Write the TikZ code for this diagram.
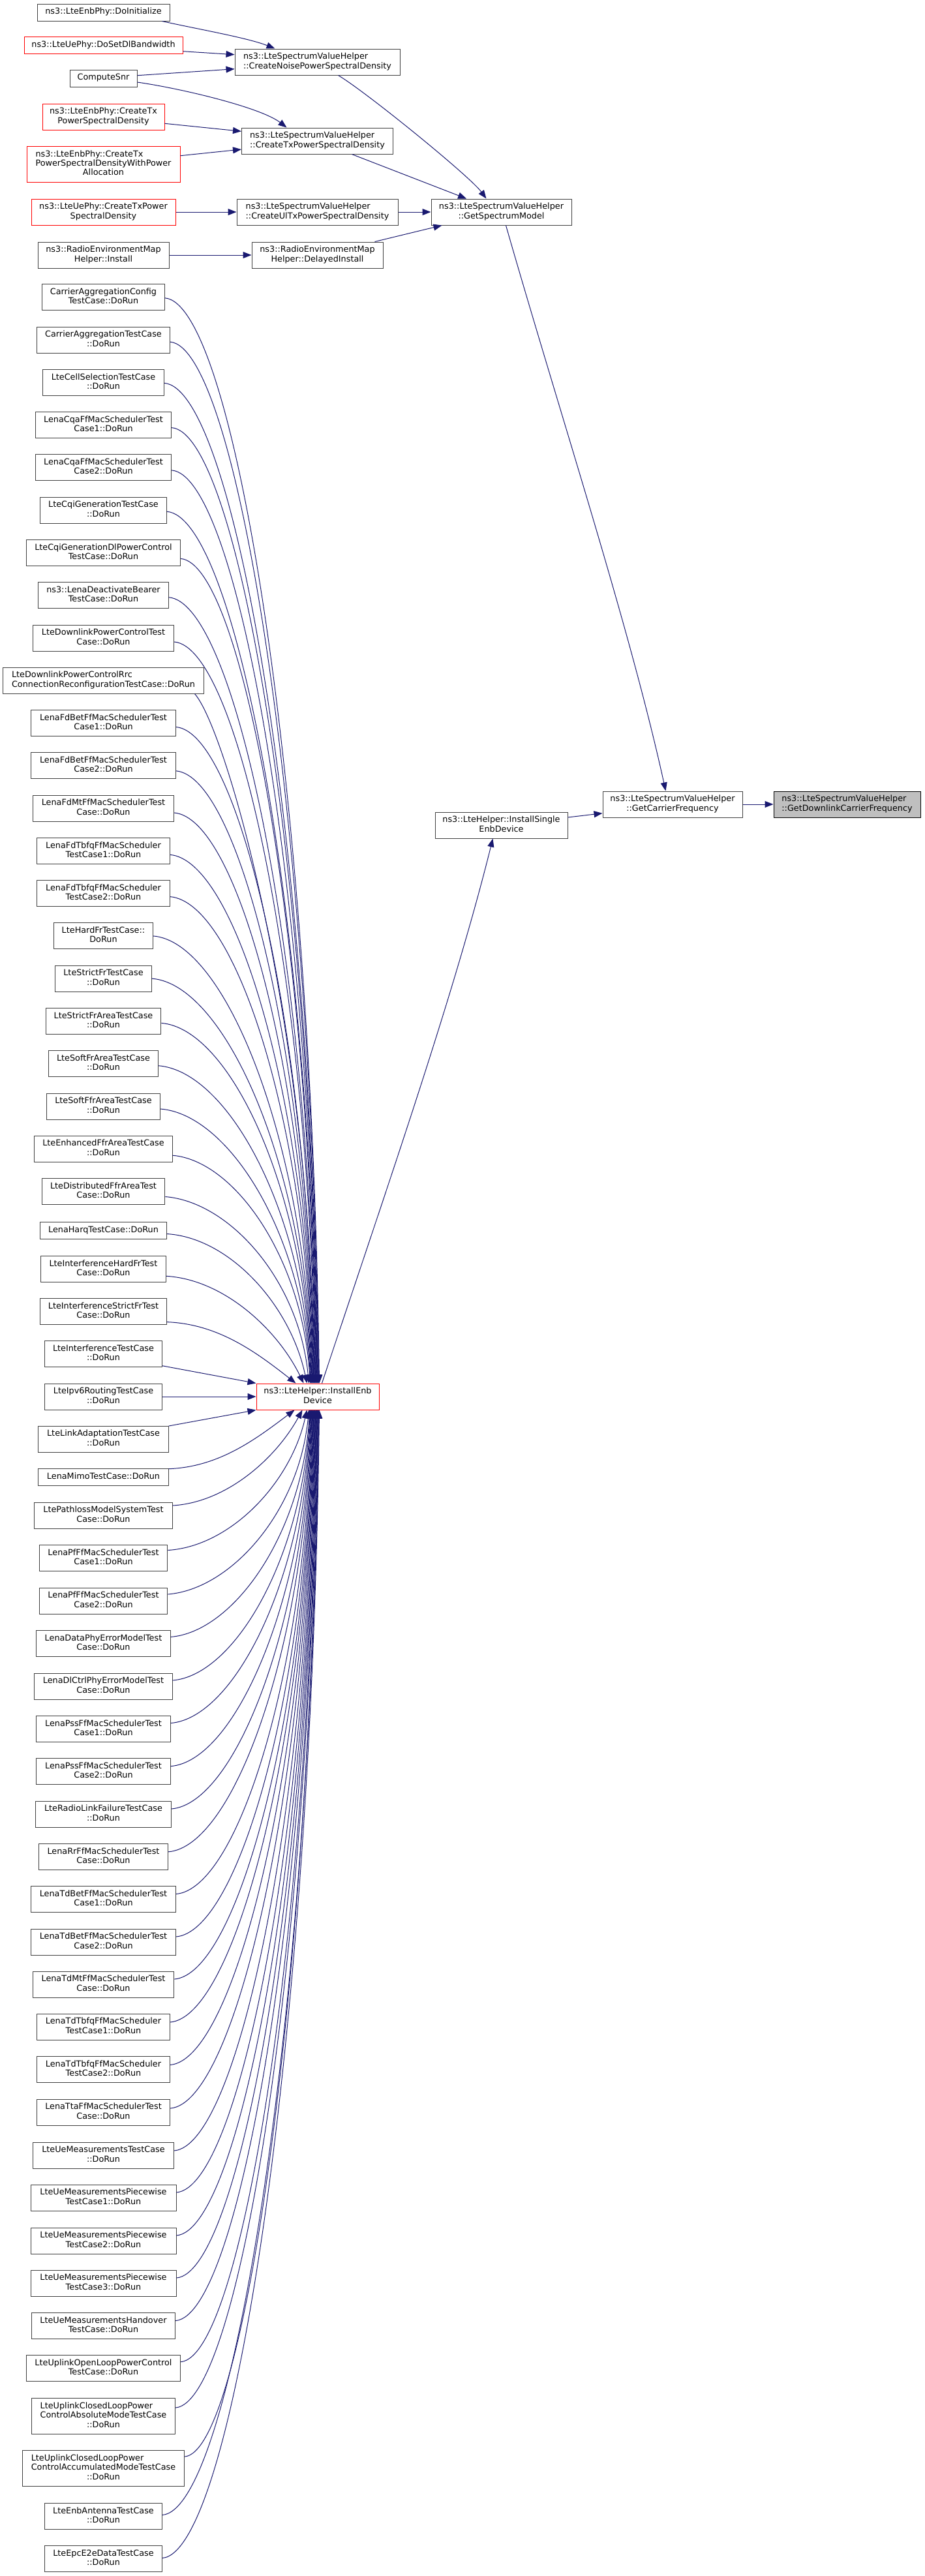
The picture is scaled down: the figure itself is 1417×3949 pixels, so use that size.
\documentclass[tikz,border=0pt]{standalone}
\usepackage{fontspec}
\setmainfont{DejaVu Sans}
\usetikzlibrary{arrows.meta,calc}
\definecolor{edgec}{HTML}{191970}
\definecolor{bd}{HTML}{404040}
\definecolor{gbg}{HTML}{BFBFBF}
\definecolor{rbd}{HTML}{FF0000}
\newcommand{\lb}[2]{\begin{tabular}{@{}l@{}}#1\\\multicolumn{1}{@{}c@{}}{#2}\end{tabular}}
\newcommand{\lone}[1]{\begin{tabular}{@{}c@{}}#1\end{tabular}}
\newcommand{\nfont}{\fontsize{12.8}{14.3}\selectfont}
\newcommand{\tc}[5]{\node[nbox, minimum width=#3pt, minimum height=#4pt] (t#1) at (158.5,#2) {#5};}
\newcommand{\tedge}[7]{%
\draw[conn] let \p1=($(t#1.east)+(0,#2)$), \p2=($(ie.north west)+(#3-393,0)$) in
 (\p1) .. controls ({\x1+#4*(\x2-\x1)},{\y1-#5pt}) and ({\x2+#6pt},{\y2+#7*(\y1-\y2)}) .. (\p2);}
\newcommand{\bedge}[7]{%
\draw[conn] let \p1=($(t#1.east)+(0,#2)$), \p2=($(ie.south west)+(#3-393,0)$) in
 (\p1) .. controls ({\x1+#4*(\x2-\x1)},{\y1+#5pt}) and ({\x2+#6pt},{\y2-#7*(\y2-\y1)}) .. (\p2);}
\begin{document}
\begin{tikzpicture}[x=1pt,y=-1pt,
  nbox/.style={draw=bd, fill=white, line width=1pt, rectangle, inner xsep=6pt, inner ysep=2pt, font=\nfont, text=black},
  rbox/.style={nbox, draw=rbd},
  gbox/.style={nbox, fill=gbg, draw=black},
  conn/.style={draw=edgec, line width=1pt, -{Triangle[length=13pt,width=10pt]}}]
\fill[white] (0,0) rectangle (1417,3949);
\useasboundingbox (0,0) rectangle (1417,3949);

% top area
\node[nbox, minimum width=203pt, minimum height=26pt] (doinit) at (158.5,19) {\lone{ns3::LteEnbPhy::DoInitialize}};
\node[rbox, minimum width=243pt, minimum height=25.5pt] (dosetdl) at (158.5,69.5) {\lone{ns3::LteUePhy::DoSetDlBandwidth}};
\node[nbox, minimum width=103pt, minimum height=26pt] (csnr) at (158.5,120) {\lone{ComputeSnr}};
\node[rbox, minimum width=187pt, minimum height=40pt] (enbtx) at (158.5,179) {\lb{ns3::LteEnbPhy::CreateTx}{PowerSpectralDensity}};
\node[rbox, minimum width=235pt, minimum height=55pt] (enbtxpa) at (158.5,251.5) {\lb{ns3::LteEnbPhy::CreateTx\\PowerSpectralDensityWithPower}{Allocation}};
\node[rbox, minimum width=221pt, minimum height=40pt] (uetx) at (158.5,325) {\lb{ns3::LteUePhy::CreateTxPower}{SpectralDensity}};
\node[nbox, minimum width=201pt, minimum height=40pt] (reminst) at (158.5,391) {\lb{ns3::RadioEnvironmentMap}{Helper::Install}};
\node[nbox, minimum width=253pt, minimum height=40pt] (noise) at (486.5,95) {\lb{ns3::LteSpectrumValueHelper}{::CreateNoisePowerSpectralDensity}};
\node[nbox, minimum width=232pt, minimum height=40pt] (txpsd) at (486.5,216) {\lb{ns3::LteSpectrumValueHelper}{::CreateTxPowerSpectralDensity}};
\node[nbox, minimum width=247pt, minimum height=40pt] (ultx) at (486.5,325) {\lb{ns3::LteSpectrumValueHelper}{::CreateUlTxPowerSpectralDensity}};
\node[nbox, minimum width=201pt, minimum height=40pt] (delinst) at (486.5,391) {\lb{ns3::RadioEnvironmentMap}{Helper::DelayedInstall}};
\node[nbox, minimum width=215pt, minimum height=40pt] (gsm) at (768.5,325) {\lb{ns3::LteSpectrumValueHelper}{::GetSpectrumModel}};
\node[nbox, minimum width=214pt, minimum height=40pt] (gcf) at (1031,1233) {\lb{ns3::LteSpectrumValueHelper}{::GetCarrierFrequency}};
\node[gbox, minimum width=225pt, minimum height=40pt] (gdcf) at (1298.5,1233) {\lb{ns3::LteSpectrumValueHelper}{::GetDownlinkCarrierFrequency}};
\node[nbox, minimum width=203pt, minimum height=40pt] (ised) at (768.5,1265) {\lb{ns3::LteHelper::InstallSingle}{EnbDevice}};
\node[rbox, minimum width=188pt, minimum height=40pt] (ie) at (487,2141) {\lb{ns3::LteHelper::InstallEnb}{Device}};

% test cases
\tc{1}{455.8}{187.3}{40}{\lb{CarrierAggregationConfig}{TestCase::DoRun}}
\tc{2}{521.1}{203.3}{40}{\lb{CarrierAggregationTestCase}{::DoRun}}
\tc{3}{586.3}{185.7}{40}{\lb{LteCellSelectionTestCase}{::DoRun}}
\tc{4}{651.6}{208.3}{40}{\lb{LenaCqaFfMacSchedulerTest}{Case1::DoRun}}
\tc{5}{716.9}{208.3}{40}{\lb{LenaCqaFfMacSchedulerTest}{Case2::DoRun}}
\tc{6}{782.2}{193.7}{40}{\lb{LteCqiGenerationTestCase}{::DoRun}}
\tc{7}{847.4}{236.3}{40}{\lb{LteCqiGenerationDlPowerControl}{TestCase::DoRun}}
\tc{8}{912.7}{199.3}{40}{\lb{ns3::LenaDeactivateBearer}{TestCase::DoRun}}
\tc{9}{978.0}{216.3}{40}{\lb{LteDownlinkPowerControlTest}{Case::DoRun}}
\tc{10}{1043.2}{307.7}{40}{\lb{LteDownlinkPowerControlRrc}{ConnectionReconfigurationTestCase::DoRun}}
\tc{11}{1108.5}{221.7}{40}{\lb{LenaFdBetFfMacSchedulerTest}{Case1::DoRun}}
\tc{12}{1173.8}{221.7}{40}{\lb{LenaFdBetFfMacSchedulerTest}{Case2::DoRun}}
\tc{13}{1239.0}{216.3}{40}{\lb{LenaFdMtFfMacSchedulerTest}{Case::DoRun}}
\tc{14}{1304.3}{203.3}{40}{\lb{LenaFdTbfqFfMacScheduler}{TestCase1::DoRun}}
\tc{15}{1369.6}{203.3}{40}{\lb{LenaFdTbfqFfMacScheduler}{TestCase2::DoRun}}
\tc{16}{1434.9}{151.3}{40}{\lb{LteHardFrTestCase::}{DoRun}}
\tc{17}{1500.1}{147.3}{40}{\lb{LteStrictFrTestCase}{::DoRun}}
\tc{18}{1565.4}{176.7}{40}{\lb{LteStrictFrAreaTestCase}{::DoRun}}
\tc{19}{1630.7}{167.3}{40}{\lb{LteSoftFrAreaTestCase}{::DoRun}}
\tc{20}{1696.0}{174.0}{40}{\lb{LteSoftFfrAreaTestCase}{::DoRun}}
\tc{21}{1761.2}{211.3}{40}{\lb{LteEnhancedFfrAreaTestCase}{::DoRun}}
\tc{22}{1826.5}{188.7}{40}{\lb{LteDistributedFfrAreaTest}{Case::DoRun}}
\tc{23}{1886.5}{193.7}{25.5}{\lone{LenaHarqTestCase::DoRun}}
\tc{24}{1945.3}{191.3}{40}{\lb{LteInterferenceHardFrTest}{Case::DoRun}}
\tc{25}{2010.6}{193.7}{40}{\lb{LteInterferenceStrictFrTest}{Case::DoRun}}
\tc{26}{2075.7}{179.3}{40}{\lb{LteInterferenceTestCase}{::DoRun}}
\tc{27}{2141.0}{179.3}{40}{\lb{LteIpv6RoutingTestCase}{::DoRun}}
\tc{28}{2206.0}{199.3}{40}{\lb{LteLinkAdaptationTestCase}{::DoRun}}
\tc{29}{2264.7}{199.3}{25.5}{\lone{LenaMimoTestCase::DoRun}}
\tc{30}{2323.0}{211.3}{40}{\lb{LtePathlossModelSystemTest}{Case::DoRun}}
\tc{31}{2388.5}{196.7}{40}{\lb{LenaPfFfMacSchedulerTest}{Case1::DoRun}}
\tc{32}{2454.0}{196.7}{40}{\lb{LenaPfFfMacSchedulerTest}{Case2::DoRun}}
\tc{33}{2519.4}{205.7}{40}{\lb{LenaDataPhyErrorModelTest}{Case::DoRun}}
\tc{34}{2585.0}{211.3}{40}{\lb{LenaDlCtrlPhyErrorModelTest}{Case::DoRun}}
\tc{35}{2650.5}{205.7}{40}{\lb{LenaPssFfMacSchedulerTest}{Case1::DoRun}}
\tc{36}{2715.6}{205.7}{40}{\lb{LenaPssFfMacSchedulerTest}{Case2::DoRun}}
\tc{37}{2781.0}{207.3}{40}{\lb{LteRadioLinkFailureTestCase}{::DoRun}}
\tc{38}{2846.8}{198.0}{40}{\lb{LenaRrFfMacSchedulerTest}{Case::DoRun}}
\tc{39}{2911.5}{221.7}{40}{\lb{LenaTdBetFfMacSchedulerTest}{Case1::DoRun}}
\tc{40}{2977.0}{221.7}{40}{\lb{LenaTdBetFfMacSchedulerTest}{Case2::DoRun}}
\tc{41}{3042.0}{216.7}{40}{\lb{LenaTdMtFfMacSchedulerTest}{Case::DoRun}}
\tc{42}{3107.0}{203.3}{40}{\lb{LenaTdTbfqFfMacScheduler}{TestCase1::DoRun}}
\tc{43}{3172.5}{203.3}{40}{\lb{LenaTdTbfqFfMacScheduler}{TestCase2::DoRun}}
\tc{44}{3238.0}{204.3}{40}{\lb{LenaTtaFfMacSchedulerTest}{Case::DoRun}}
\tc{45}{3304.0}{215.7}{40}{\lb{LteUeMeasurementsTestCase}{::DoRun}}
\tc{46}{3369.0}{223.0}{40}{\lb{LteUeMeasurementsPiecewise}{TestCase1::DoRun}}
\tc{47}{3435.0}{223.0}{40}{\lb{LteUeMeasurementsPiecewise}{TestCase2::DoRun}}
\tc{48}{3500.0}{223.0}{40}{\lb{LteUeMeasurementsPiecewise}{TestCase3::DoRun}}
\tc{49}{3565.6}{220.3}{40}{\lb{LteUeMeasurementsHandover}{TestCase::DoRun}}
\tc{50}{3630.7}{236.3}{40}{\lb{LteUplinkOpenLoopPowerControl}{TestCase::DoRun}}
\tc{51}{3704.0}{220.3}{54.5}{\lb{LteUplinkClosedLoopPower\\ControlAbsoluteModeTestCase}{::DoRun}}
\tc{52}{3784.0}{248.3}{54.5}{\lb{LteUplinkClosedLoopPower\\ControlAccumulatedModeTestCase}{::DoRun}}
\tc{53}{3857.5}{179.3}{40}{\lb{LteEnbAntennaTestCase}{::DoRun}}
\tc{54}{3922.5}{179.3}{40}{\lb{LteEpcE2eDataTestCase}{::DoRun}}

% top connectors
\draw[conn] ($(doinit.south east)+(-12,0)$) .. controls (300,44) and (380,58) .. ($(noise.north west)+(62,0)$);
\draw[conn] ($(dosetdl.east)+(0,9.2)$) -- ($(noise.west)+(0,-11.3)$);
\draw[conn] ($(csnr.east)+(0,-4.3)$) -- ($(noise.west)+(0,10.7)$);
\draw[conn] ($(csnr.east)+(0,6)$) .. controls (280,136) and (400,165) .. ($(txpsd.north west)+(69.5,0)$);
\draw[conn] ($(enbtx.east)+(0,10.3)$) -- ($(txpsd.west)+(0,-14.7)$);
\draw[conn] ($(enbtxpa.east)+(0,-12.8)$) -- ($(txpsd.west)+(0,13)$);
\draw[conn] (uetx) -- (ultx);
\draw[conn] (reminst) -- (delinst);
\draw[conn] ($(noise.south west)+(159,0)$) .. controls (560,140) and (720,270) .. ($(gsm.north west)+(85,0)$);
\draw[conn] ($(txpsd.south west)+(169.5,0)$) -- ($(gsm.north west)+(54.6,0)$);
\draw[conn] (ultx) -- (gsm);
\draw[conn] ($(delinst.north east)+(-13,0)$) -- ($(gsm.south west)+(17,0)$);
\draw[conn] ($(gsm.south west)+(115,0)$) .. controls (860,640) and (965,960) .. ($(gcf.north west)+(97,0)$);
\draw[conn] ($(ised.east)+(0,-12)$) -- ($(gcf.west)+(0,13.7)$);
\draw[conn] (gcf) -- (gdcf);
\draw[conn] ($(ie.north west)+(101,0)$) .. controls (586,1841) and (693.5,1535) .. ($(ised.south west)+(89,0)$);

% test case connectors above
\foreach \i/\s in {1/1,2/3,3/1,4/4,5/4,6/2,7/9,8/3,9/6,11/6,12/8,13/7,14/6,15/5,16/0,17/0,18/3,19/3,20/4,21/10}{%
  \pgfmathsetmacro\ee{490-0.7*(\i-1)}
  \tedge{\i}{\s}{\ee}{0.45}{8}{-12}{0.55}
}
\draw[conn] let \p1=($(t10.south east)+(-14.3,0)$), \p2=($(ie.north west)+(483.7-393,0)$) in
 (\p1) .. controls ({\x1+45pt},{\y1-50pt}) and ({\x2-12pt},{\y2+0.55*(\y1-\y2)}) .. (\p2);
\tedge{22}{8}{474}{0.45}{8}{-15}{0.55}
\tedge{23}{5}{471}{0.45}{6}{-25}{0.52}
\tedge{24}{11}{466}{0.42}{5}{-40}{0.5}
\tedge{25}{16}{454}{0.4}{3}{-60}{0.5}
\draw[conn] ($(t26.east)+(0,18)$) -- (ie.north west);
\draw[conn] (t27.east) -- (ie.west);
\draw[conn] ($(t28.east)+(0,-20)$) -- (ie.south west);
% below
\bedge{29}{-13}{452}{0.4}{3}{-60}{0.5}
\bedge{30}{-15}{464}{0.42}{5}{-40}{0.5}
\bedge{31}{-12}{471}{0.45}{6}{-25}{0.52}
\bedge{32}{-10}{474}{0.45}{8}{-15}{0.55}
\foreach \i/\s in {33/-10,34/-9,35/-9,36/-8,37/-8,38/-8,39/-8,40/-8,41/-8,42/-7,43/-7,44/-6,45/-7,46/-8,47/-8,48/-8,49/-8,50/-10,51/-13,52/-18,53/-2,54/-1}{%
  \pgfmathsetmacro\ee{490-0.7*(54-\i)}
  \bedge{\i}{\s}{\ee}{0.45}{8}{-12}{0.55}
}
\end{tikzpicture}
\end{document}
